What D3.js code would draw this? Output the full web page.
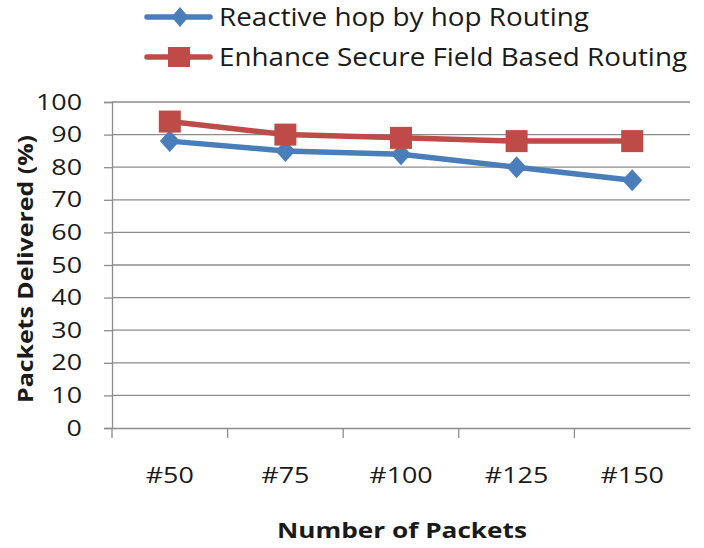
<!DOCTYPE html>
<html><head><meta charset="utf-8">
<script src="https://cdn.jsdelivr.net/npm/d3@7"></script>
<style>body{margin:0;background:#fff;} svg{display:block;}</style>
</head><body>
<script>
const categories = ["#50", "#75", "#100", "#125", "#150"];
const reactive = [88, 85, 84, 80, 76];
const enhance = [94, 90, 89, 88, 88];
const yTicks = [0, 10, 20, 30, 40, 50, 60, 70, 80, 90, 100];
const seriesNames = ["Reactive hop by hop Routing", "Enhance Secure Field Based Routing"];
const colors = ["#4A7EBB", "#BE4B48"];

const W = 704, H = 548;
const margin = {left: 112, right: 14, top: 102, bottom: 120};
const svg = d3.select("body").append("svg").attr("width", W).attr("height", H);
const font = "'Open Sans', 'Liberation Sans', Arial, sans-serif";
const textColor = "#1a1a1a";
const axisColor = "#8c8c8c";
const sx = 1.2;

const x = d3.scaleBand().domain(categories).range([margin.left, W - margin.right]);
const y = d3.scaleLinear().domain([0, 100]).range([H - margin.bottom, margin.top]);

// gridlines
svg.append("g").selectAll("line").data(yTicks.filter(d => d > 0)).join("line")
  .attr("x1", margin.left).attr("x2", W - margin.right)
  .attr("y1", d => y(d)).attr("y2", d => y(d))
  .attr("stroke", axisColor).attr("stroke-width", 1.3);

// y axis
const yAxis = svg.append("g").attr("transform", `translate(${margin.left},0)`)
  .call(d3.axisLeft(y).tickValues(yTicks).tickSize(8).tickPadding(22));
yAxis.select(".domain").attr("stroke", axisColor).attr("stroke-width", 1.3);
yAxis.selectAll(".tick line").attr("stroke", axisColor).attr("stroke-width", 1.3);
yAxis.selectAll(".tick text").attr("font-family", font).attr("font-size", 22.4).attr("fill", textColor)
  .attr("x", -30 / sx).attr("transform", `scale(${sx},1)`);

// x axis
const xAxis = svg.append("g").attr("transform", `translate(0,${y(0)})`)
  .call(d3.axisBottom(x).tickSize(0));
xAxis.select(".domain").attr("stroke", axisColor).attr("stroke-width", 1.3);
xAxis.selectAll(".tick text").attr("font-family", font).attr("font-size", 22.4).attr("fill", textColor)
  .attr("y", 55).attr("dy", 0).attr("transform", `scale(${sx},1)`);
// category boundary ticks
const bounds = categories.map(c => x(c));
svg.append("g").selectAll("line").data(bounds).join("line")
  .attr("x1", d => d).attr("x2", d => d).attr("y1", y(0)).attr("y2", y(0) + 10)
  .attr("stroke", axisColor).attr("stroke-width", 1.3);

// titles
svg.append("text").attr("x", 277).attr("y", 538)
  .attr("font-family", font).attr("font-size", 21).attr("font-weight", "bold").attr("fill", textColor)
  .attr("textLength", 250).attr("lengthAdjust", "spacingAndGlyphs")
  .text("Number of Packets");
svg.append("text").attr("transform", `translate(33,403) rotate(-90)`)
  .attr("font-family", font).attr("font-size", 22)
  .attr("font-weight", "bold").attr("fill", textColor)
  .attr("textLength", 268).attr("lengthAdjust", "spacingAndGlyphs")
  .text("Packets Delivered (%)");

const cx = d => x(d) + x.bandwidth() / 2;
const line = d3.line().x((d, i) => cx(categories[i])).y(d => y(d));
const diamond = (h, v) => `M0,${-v}L${h},0L0,${v}L${-h},0Z`;

[reactive, enhance].forEach((vals, s) => {
  svg.append("path").datum(vals).attr("d", line).attr("fill", "none")
    .attr("stroke", colors[s]).attr("stroke-width", 5.5).attr("stroke-linejoin", "round");
});
// markers
svg.append("g").selectAll("path").data(reactive).join("path")
  .attr("d", diamond(10, 11))
  .attr("transform", (d, i) => `translate(${cx(categories[i])},${y(d)})`)
  .attr("fill", colors[0]);
svg.append("g").selectAll("rect").data(enhance).join("rect")
  .attr("x", (d, i) => cx(categories[i]) - 11).attr("y", d => y(d) - 11)
  .attr("width", 22).attr("height", 22).attr("fill", colors[1]);

// legend
const leg = svg.append("g");
const legY = [17, 57];
const legLen = [370, 468];
[0, 1].forEach(s => {
  const ly = legY[s];
  leg.append("line").attr("x1", 147).attr("x2", 210).attr("y1", ly).attr("y2", ly)
    .attr("stroke", colors[s]).attr("stroke-width", 5.5).attr("stroke-linecap", "round");
  if (s === 0) {
    leg.append("path").attr("d", diamond(8.5, 10))
      .attr("transform", `translate(180,${ly})`).attr("fill", colors[0]);
  } else {
    leg.append("rect").attr("x", 168).attr("y", ly - 10).attr("width", 22).attr("height", 20).attr("fill", colors[1]);
  }
  leg.append("text").attr("x", 219).attr("y", ly + 9).attr("font-family", font)
    .attr("font-size", 25).attr("fill", textColor)
    .attr("textLength", legLen[s]).attr("lengthAdjust", "spacingAndGlyphs")
    .text(seriesNames[s]);
});
</script>
</body></html>
